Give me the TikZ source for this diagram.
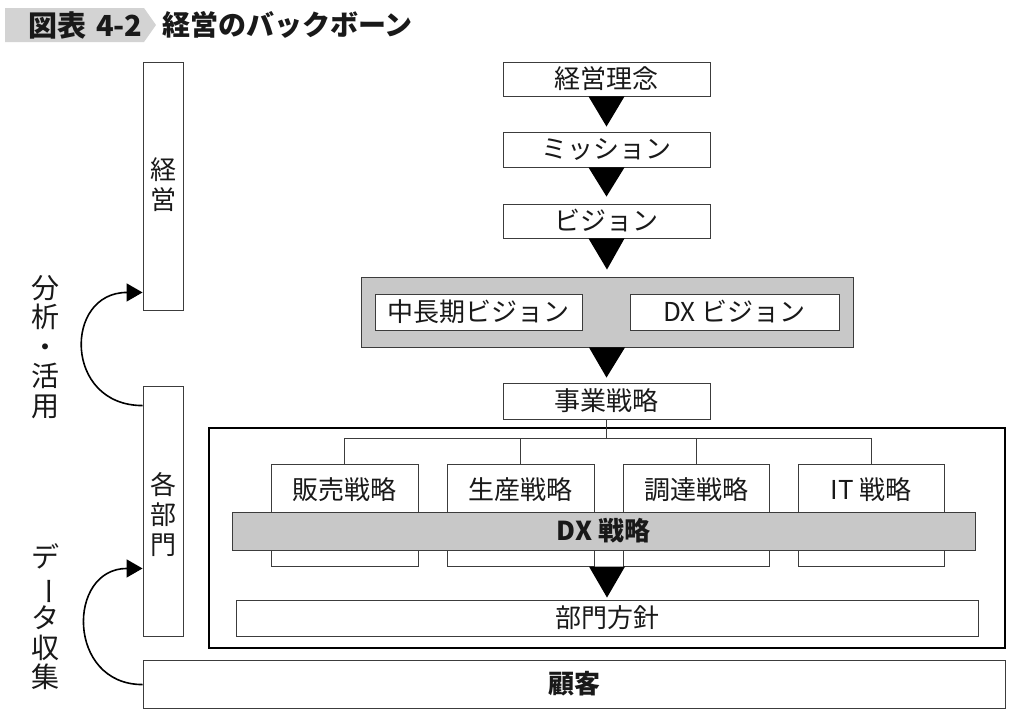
\documentclass[tikz,border=0pt]{standalone}
\usepackage{fontspec}
\setmainfont{Noto Sans CJK JP}
\usetikzlibrary{calc,arrows.meta}
\definecolor{bandgray}{RGB}{200,200,200}
\definecolor{titlegray}{RGB}{211,211,211}
\definecolor{edge}{RGB}{60,60,60}
\definecolor{ink}{RGB}{25,25,25}
\tikzset{
  box/.style={draw=edge, line width=0.9pt, fill=white, inner sep=0pt, text=ink},
  graybox/.style={box, fill=bandgray},
  tree/.style={draw=edge, line width=0.8pt},
  looparrow/.style={line width=1.6pt, -{Triangle[length=16pt,width=18pt]}},
  bigtxt/.style={font=\fontsize{26}{30}\selectfont, text=ink},
  vtxt/.style={align=center, font=\fontsize{28}{29.5}\selectfont, text=ink, inner sep=0pt},
  titletxt/.style={font=\fontsize{28}{30}\selectfont\bfseries, anchor=west, text=ink, inner sep=0pt}
}
\begin{document}
\begin{tikzpicture}[x=1pt,y=-1pt,bigtxt]
\fill[white] (0,0) rectangle (1015,716);
\useasboundingbox (0,0) rectangle (1015,716);

% title
\fill[titlegray] (5,8) -- (144,8) -- (156,25) -- (144,42) -- (5,42) -- cycle;
\node[titletxt, font=\fontsize{29}{30}\selectfont\bfseries] (tnum) at (28,25) {図表\hspace{10pt}4-2};
\node[titletxt] (ttl) at (162,25) {経営のバックボーン};

% left column
\node[box, minimum width=40pt, minimum height=248pt] (keiei) at (163,186) {};
\node[vtxt, font=\fontsize{26}{30}\selectfont] (keieit) at (163,185) {経\\営};
\node[box, minimum width=40pt, minimum height=250pt] (kaku) at (163,511) {};
\node[vtxt, font=\fontsize{26}{30}\selectfont] (kakut) at (163,515) {各\\部\\門};
\node[vtxt] (lab1) at (45,347) {分\\析\\・\\活\\用};
\node[vtxt] (lab2) at (45,617) {デ\\\rotatebox[origin=c]{-90}{ー}\\タ\\収\\集};

% top chain
\node[box, minimum width=207pt, minimum height=34pt] (rinen) at (606.5,79) {経営理念};
\node[box, minimum width=207pt, minimum height=35pt] (mission) at (606.5,149.5) {ミッション};
\node[box, minimum width=207pt, minimum height=34pt] (vision) at (606.5,221) {ビジョン};
\node[graybox, minimum width=492pt, minimum height=70pt] (gbox) at (607,312) {};
\node[box, minimum width=207pt, minimum height=36pt] (chu) at (478.5,312) {中長期ビジョン};
\node[box, minimum width=209pt, minimum height=36pt] (dxv) at (734.5,312) {DX ビジョン};
\node[box, minimum width=207pt, minimum height=36pt] (jigyo) at (606.5,401) {事業戦略};

\fill ($(rinen.south)+(-18,0)$) -- ($(rinen.south)+(18,0)$) -- ($(mission.north)+(0,-5)$) -- cycle;
\fill ($(mission.south)+(-18,0)$) -- ($(mission.south)+(18,0)$) -- ($(vision.north)+(0,-7)$) -- cycle;
\fill ($(vision.south)+(-18,0)$) -- ($(vision.south)+(18,0)$) -- ($(gbox.north)+(0,-7)$) -- cycle;
\fill ($(gbox.south)+(-18,0)$) -- ($(gbox.south)+(18,0)$) -- ($(jigyo.north)+(0,-5)$) -- cycle;

% frame
\node[draw=black, line width=2.4pt, minimum width=796pt, minimum height=220pt, inner sep=0pt] (frame) at (607,538) {};

\node[box, minimum width=147pt, minimum height=102pt] (s1) at (344.5,515) {};
\node[box, minimum width=147pt, minimum height=102pt] (s2) at (520.5,515) {};
\node[box, minimum width=146pt, minimum height=102pt] (s3) at (696,515) {};
\node[box, minimum width=146pt, minimum height=102pt] (s4) at (871,515) {};
\node[inner sep=0pt] (s1t) at (344.5,490) {販売戦略};
\node[inner sep=0pt] (s2t) at (520.5,490) {生産戦略};
\node[inner sep=0pt] (s3t) at (696,490) {調達戦略};
\node[inner sep=0pt] (s4t) at (871,490) {IT 戦略};

\draw[tree] (jigyo.south) -- ++(0,19) coordinate (tj);
\draw[tree] (s1.north) |- (tj) -| (s4.north);
\draw[tree] (s2.north) -- (s2.north |- tj);
\draw[tree] (s3.north) -- (s3.north |- tj);

\node[graybox, minimum width=743pt, minimum height=38pt, font=\fontsize{26}{30}\selectfont\bfseries] (dxs) at (603.5,531) {DX 戦略};
\node[box, minimum width=742pt, minimum height=36pt] (bumon) at (607,618) {部門方針};
\fill ($(bumon.north)+(-18,-33)$) -- ($(bumon.north)+(18,-33)$) -- ($(bumon.north)+(0,-2)$) -- cycle;

\node[box, minimum width=862pt, minimum height=48pt, font=\fontsize{26}{30}\selectfont\bfseries] (kokyaku) at (574,684) {顧客};

% loops
\draw[looparrow] ($(kaku.north west)+(0,20)$) .. controls +(-79,0) and +(-79,0) .. ($(keiei.south west)+(0,-18)$);
\draw[looparrow] ($(kokyaku.north west)+(0,25)$) .. controls +(-76,0) and +(-76,0) .. ($(kaku.south west)+(0,-68)$);
\end{tikzpicture}
\end{document}
